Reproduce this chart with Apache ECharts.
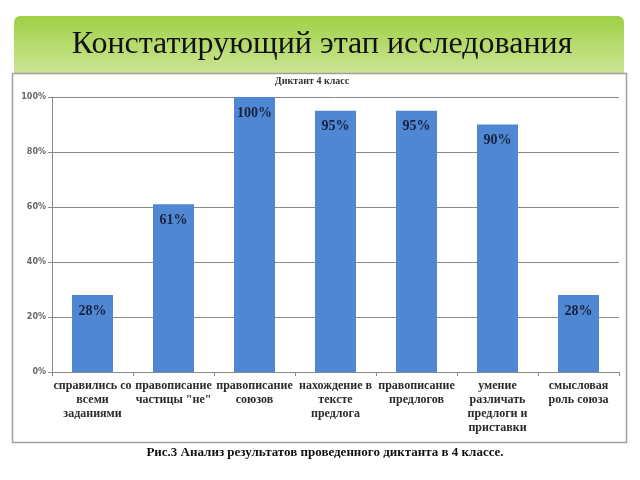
<!DOCTYPE html>
<html><head><meta charset="utf-8">
<script src="https://cdn.jsdelivr.net/npm/echarts@6/dist/echarts.min.js"></script>
<style>html,body{margin:0;padding:0;background:#fff}#c{width:640px;height:480px}</style>
</head><body><div id="c"></div>
<script>
const categories = [
  "справились со\nвсеми\nзаданиями",
  "правописание\nчастицы \"не\"",
  "правописание\nсоюзов",
  "нахождение в\nтексте\nпредлога",
  "правописание\nпредлогов",
  "умение\nразличать\nпредлоги и\nприставки",
  "смысловая\nроль союза"
];
const values = [28, 61, 100, 95, 95, 90, 28];
const yTicks = [0, 20, 40, 60, 80, 100];
const slideTitle = "Констатирующий этап исследования";
const chartTitle = "Диктант 4 класс";
const caption = "Рис.3 Анализ результатов проведенного диктанта в 4 классе.";

const serif = "'Liberation Serif','DejaVu Serif',serif";
const chart = echarts.init(document.getElementById('c'), null, {renderer:'canvas'});
chart.setOption({
  animation: false,
  backgroundColor: '#fff',
  graphic: [
    { type:'rect', shape:{x:14, y:16, width:610, height:58, r:[6,6,0,0]},
      style:{ fill: new echarts.graphic.LinearGradient(0,0,0,1,[{offset:0,color:'#9fd046'},{offset:1,color:'#cde596'}]) }, z:0 },
    { type:'text', x:322, y:45, style:{ text: slideTitle, font: "32px " + serif, fill:'#111', align:'center', verticalAlign:'middle' }, z:2 },
    { type:'rect', shape:{x:12.5, y:73.5, width:614, height:369}, style:{ fill:'none', stroke:'#a0a0a0', lineWidth:1.5 }, z:1 },
    { type:'text', x:312, y:81, style:{ text: chartTitle, font: "bold 10px " + serif, fill:'#333', align:'center', verticalAlign:'middle' }, z:2 },
    { type:'text', x:325, y:453, style:{ text: caption, font: "bold 13px " + serif, fill:'#111', align:'center', verticalAlign:'middle' }, z:2 }
  ],
  grid: { left:52, right:21, top:97, bottom:108, containLabel:false },
  xAxis: {
    type:'category', data: categories,
    axisLine:{ lineStyle:{ color:'#888' } },
    axisTick:{ show:true, length:4, lineStyle:{ color:'#888' } },
    axisLabel:{ interval:0, margin:7, color:'#2a2a2a', fontFamily:serif, fontWeight:'bold', fontSize:12, lineHeight:14 }
  },
  yAxis: {
    type:'value', min:0, max:100, interval:20,
    axisLine:{ show:true, lineStyle:{ color:'#888' } },
    axisTick:{ show:true, length:4, lineStyle:{ color:'#888' } },
    splitLine:{ lineStyle:{ color:'#8a8a8a', width:1 } },
    axisLabel:{ formatter: v => yTicks.includes(v) ? v + '%' : '', color:'#666', fontFamily:"'DejaVu Sans',sans-serif", fontWeight:'bold', fontSize:8, margin:6 }
  },
  series: [{
    type:'bar', data: values, barWidth:41,
    itemStyle:{ color:'#4f87d2' },
    label:{ show:true, position:'insideTop', distance:9, formatter:'{c}%', color:'#16223f', fontFamily:serif, fontWeight:'bold', fontSize:14 },
    z:3
  }]
});
</script></body></html>
